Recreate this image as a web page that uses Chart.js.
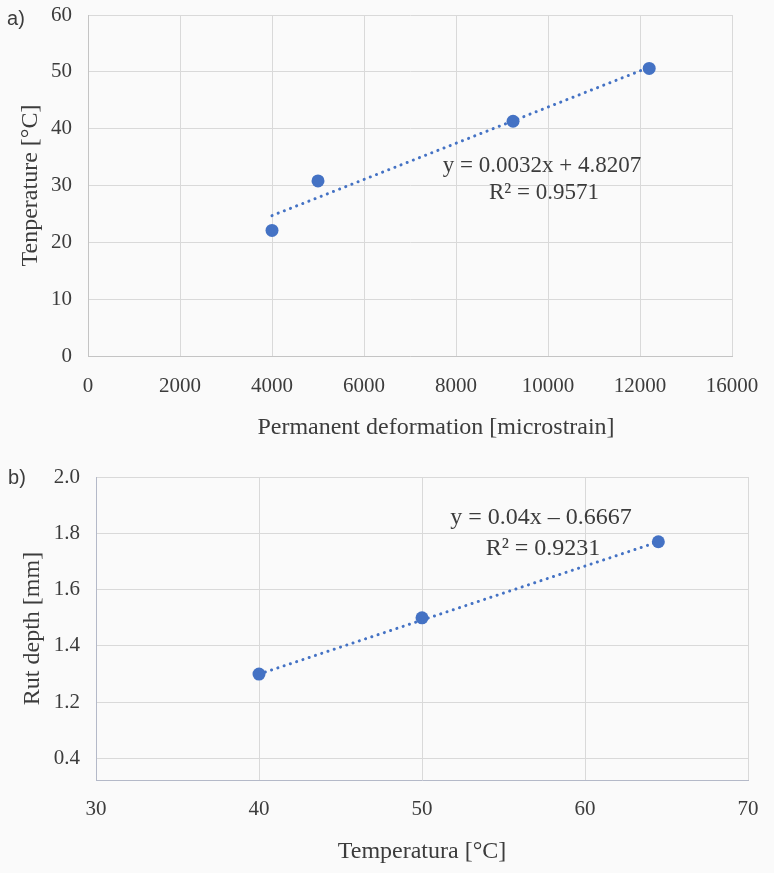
<!DOCTYPE html>
<html lang="en">
<head>
<meta charset="UTF-8">
<title>Temperature, permanent deformation and rut depth</title>
<script src="https://cdn.jsdelivr.net/npm/chart.js@4"></script>
<style>
    body { margin: 0; background: #fafafa; }
    canvas { position: absolute; left: 0; }
</style>
</head>
<body>
<canvas id="chartA" width="774" height="460" style="top:0"></canvas>
<canvas id="chartB" width="774" height="413" style="top:460px"></canvas>
<script>
// a) permanent deformation vs temperature
const deformA = [4000, 5000, 9240, 12200];
const tempA = [22.1, 30.8, 41.3, 50.6];
const trendXA = [4000, 12200];
const trendYA = [24.7, 50.8];
const xTicksA = [0, 2000, 4000, 6000, 8000, 10000, 12000, 14000];
const xTickLabelsA = ['0', '2000', '4000', '6000', '8000', '10000', '12000', '16000'];
const eqA = ['y = 0.0032x + 4.8207', 'R² = 0.9571'];

// b) temperature vs rut depth
const tempB = [40, 50, 64.5];
const rutB = [1.30, 1.50, 1.77];
const trendXB = [40, 64.5];
const trendYB = [1.30, 1.77];
const yTicksB = [1.0, 1.2, 1.4, 1.6, 1.8, 2.0];
const yTickLabelsB = ['0.4', '1.2', '1.4', '1.6', '1.8', '2.0'];
const eqB = ['y = 0.04x – 0.6667', 'R² = 0.9231'];

const serif = "'Liberation Serif', 'Times New Roman', serif";
const textColor = '#3c3c3c';
const blue = '#4472c4';

// free text (panel letter, trendline equation) drawn on top of the chart
function notes(items) {
    return {
        id: 'notes',
        afterDraw(chart) {
            const ctx = chart.ctx;
            ctx.save();
            items.forEach(t => {
                ctx.font = t.font;
                ctx.fillStyle = textColor;
                ctx.textAlign = 'center';
                ctx.textBaseline = 'middle';
                ctx.fillText(t.text, t.x, t.y);
            });
            ctx.restore();
        }
    };
}

function points(xs, ys) {
    return xs.map((x, i) => ({ x: x, y: ys[i] }));
}

function datasets(xs, ys, tx, ty) {
    return [
        {
            data: points(tx, ty),
            showLine: true,
            borderColor: blue,
            borderWidth: 3,
            borderDash: [0.1, 6.5],
            borderCapStyle: 'round',
            pointRadius: 0
        },
        {
            data: points(xs, ys),
            backgroundColor: blue,
            borderWidth: 0,
            pointRadius: 6.5
        }
    ];
}

// fixed axis boxes so the plot area sits where the original has it
function fixWidth(w) {
    return s => { s.width = w; s.paddingTop = 0; s.paddingBottom = 0; };
}
function fixHeight(h) {
    return s => { s.height = h; s.paddingLeft = 0; s.paddingRight = 0; };
}

const tickFont = { family: serif, size: 21 };
const titleFont = { family: serif, size: 24 };

function drawChartA() {
    new Chart(document.getElementById('chartA'), {
        type: 'scatter',
        data: { datasets: datasets(deformA, tempA, trendXA, trendYA) },
        options: {
            responsive: false,
            animation: false,
            layout: { padding: { top: 15, right: 42, bottom: 4, left: 0 } },
            plugins: { legend: { display: false }, tooltip: { enabled: false } },
            scales: {
                x: {
                    type: 'linear',
                    min: 0,
                    max: 14000,
                    afterBuildTicks: s => { s.ticks = xTicksA.map(v => ({ value: v })); },
                    afterFit: fixHeight(100),
                    ticks: { padding: 18, color: textColor, font: tickFont, maxRotation: 0,
                             callback: (v, i) => xTickLabelsA[i] },
                    grid: { color: '#d9d9d9', drawTicks: false },
                    border: { color: '#c4c4c4' }
                },
                y: {
                    min: 0,
                    max: 60,
                    afterFit: fixWidth(88),
                    ticks: { stepSize: 10, padding: 16, color: textColor, font: tickFont },
                    grid: { color: '#d9d9d9', drawTicks: false },
                    border: { color: '#c4c4c4' },
                    title: { display: true, text: 'Tenperature [°C]', color: textColor, font: titleFont,
                             padding: { top: 16, bottom: 0 } }
                }
            }
        },
        plugins: [notes([
            { text: 'a)', x: 16, y: 19, font: "20px 'Liberation Sans', Arial, sans-serif" },
            { text: eqA[0], x: 542, y: 166, font: '23px ' + serif },
            { text: eqA[1], x: 544, y: 193, font: '23px ' + serif },
            { text: 'Permanent deformation [microstrain]', x: 436, y: 428, font: '24px ' + serif }
        ])]
    });
}

function drawChartB() {
    new Chart(document.getElementById('chartB'), {
        type: 'scatter',
        data: { datasets: datasets(tempB, rutB, trendXB, trendYB) },
        options: {
            responsive: false,
            animation: false,
            layout: { padding: { top: 17, right: 26, bottom: 3, left: 0 } },
            plugins: { legend: { display: false }, tooltip: { enabled: false } },
            scales: {
                x: {
                    type: 'linear',
                    min: 30,
                    max: 70,
                    afterFit: fixHeight(90),
                    ticks: { stepSize: 10, padding: 17, color: textColor, font: tickFont, maxRotation: 0 },
                    grid: { color: '#d9d9d9', drawTicks: false },
                    border: { color: '#b4b9c8' },
                    title: { display: true, text: 'Temperatura [°C]', color: textColor, font: titleFont,
                             padding: { top: 0, bottom: 4 } }
                },
                y: {
                    min: 0.924,
                    max: 2.0,
                    afterBuildTicks: s => { s.ticks = yTicksB.map(v => ({ value: v })); },
                    afterFit: fixWidth(96),
                    ticks: { padding: 16, color: textColor, font: tickFont,
                             callback: (v, i) => yTickLabelsB[i] },
                    grid: { color: '#d9d9d9', drawTicks: false },
                    border: { color: '#b4b9c8' },
                    title: { display: true, text: 'Rut depth [mm]', color: textColor, font: titleFont,
                             padding: { top: 18, bottom: 0 } }
                }
            }
        },
        plugins: [notes([
            { text: 'b)', x: 17, y: 18, font: "20px 'Liberation Sans', Arial, sans-serif" },
            { text: eqB[0], x: 541, y: 58, font: '24px ' + serif },
            { text: eqB[1], x: 543, y: 89, font: '24px ' + serif }
        ])]
    });
}

drawChartA();
drawChartB();
</script>
</body>
</html>
